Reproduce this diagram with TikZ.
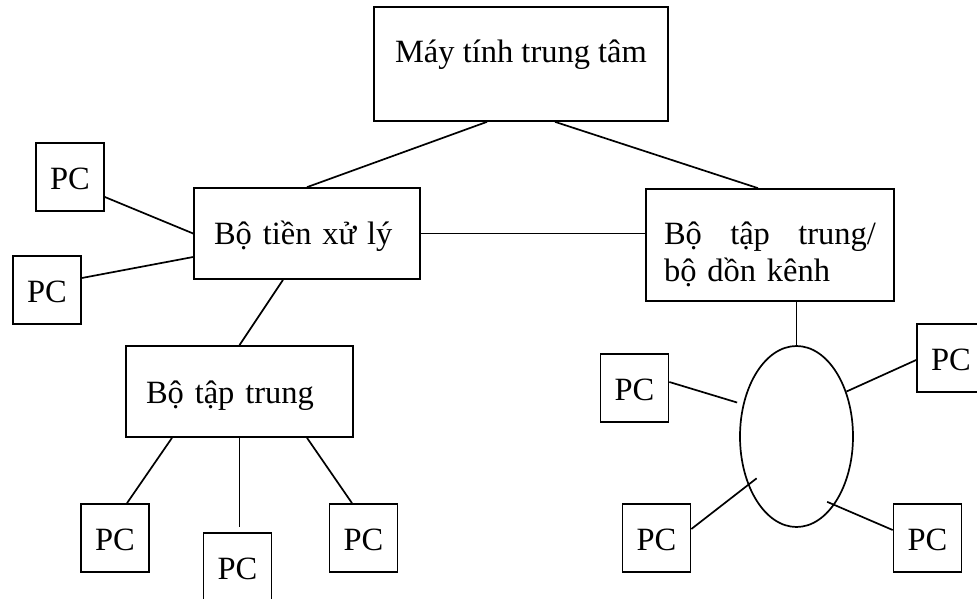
\documentclass[tikz,border=0pt]{standalone}
\usepackage{fontspec}
\setmainfont{Liberation Serif}
\usetikzlibrary{shapes.geometric}

\begin{document}
\begin{tikzpicture}[x=1pt,y=-1pt,line width=1.7pt,
  every node/.style={font=\fontsize{32.5}{37}\selectfont},
  box/.style={draw,inner sep=0pt},
  pc/.style={box,minimum size=68pt,text height=24pt,text depth=0pt}]
\useasboundingbox (0,0) rectangle (977,599);
\node[box,minimum width=294pt,minimum height=114pt,text height=22pt,text depth=24pt] (may) at (521,64) {Máy tính trung tâm};
\node[box,minimum height=91pt,inner xsep=20pt,text width=186pt,align=left,text height=22pt,text depth=1pt] (tien) at (307,233.5) {Bộ tiền xử lý};
\node[box,minimum height=112pt,inner xsep=18pt,text width=212pt,align=left,text height=22pt,text depth=24pt] (buftap) at (770,245) {Bộ\hfill tập\hfill trung/\\bộ dồn kênh};
\node[box,minimum height=91pt,inner xsep=20pt,text width=187pt,align=left,text height=24pt,text depth=1pt] (taptrung) at (239.5,391.5) {Bộ tập trung};
\node[draw,ellipse,minimum width=113pt,minimum height=181pt,inner sep=0pt] (ring) at (796.5,436.5) {};
\node[pc] (pc1) at (70,177) {PC};
\node[pc] (pc2) at (47,290) {PC};
\node[pc] (pc3) at (115,538) {PC};
\node[pc] (pc4) at (237.5,567) {PC};
\node[pc] (pc5) at (363.5,538) {PC};
\node[pc] (pc6) at (634.5,388) {PC};
\node[pc] (pc7) at (951,358) {PC};
\node[pc] (pc8) at (656.5,538) {PC};
\node[pc] (pc9) at (927.5,538) {PC};
\draw ([xshift=-34pt]may.south) -- (tien.north);
\draw ([xshift=34pt]may.south) -- ([xshift=-12pt]buftap.north);
\draw (tien.east) -- (tien.east -| buftap.west);
\draw ([yshift=-20pt]pc1.east) -- (tien.west);
\draw ([yshift=12pt]pc2.east) -- ([yshift=-23.5pt]tien.west);
\draw ([xshift=-24pt]tien.south) -- (taptrung.north);
\draw ([xshift=-67.5pt]taptrung.south) -- ([xshift=12pt]pc3.north);
\draw[shorten >=5pt] (taptrung.south) -- (taptrung.south |- pc4.north);
\draw ([xshift=67.5pt]taptrung.south) -- ([xshift=-11.5pt]pc5.north);
\draw (ring.north |- buftap.south) -- (ring.north);
\draw[shorten >=6pt] ([yshift=6pt]pc6.east) -- (ring.149);
\draw ([yshift=-2pt]pc7.west) -- (ring.42);
\draw[shorten >=-11pt] ([yshift=9pt]pc8.east) -- (ring.225);
\draw[shorten >=-8pt] ([yshift=8pt]pc9.west) -- (ring.299);
\end{tikzpicture}
\end{document}
